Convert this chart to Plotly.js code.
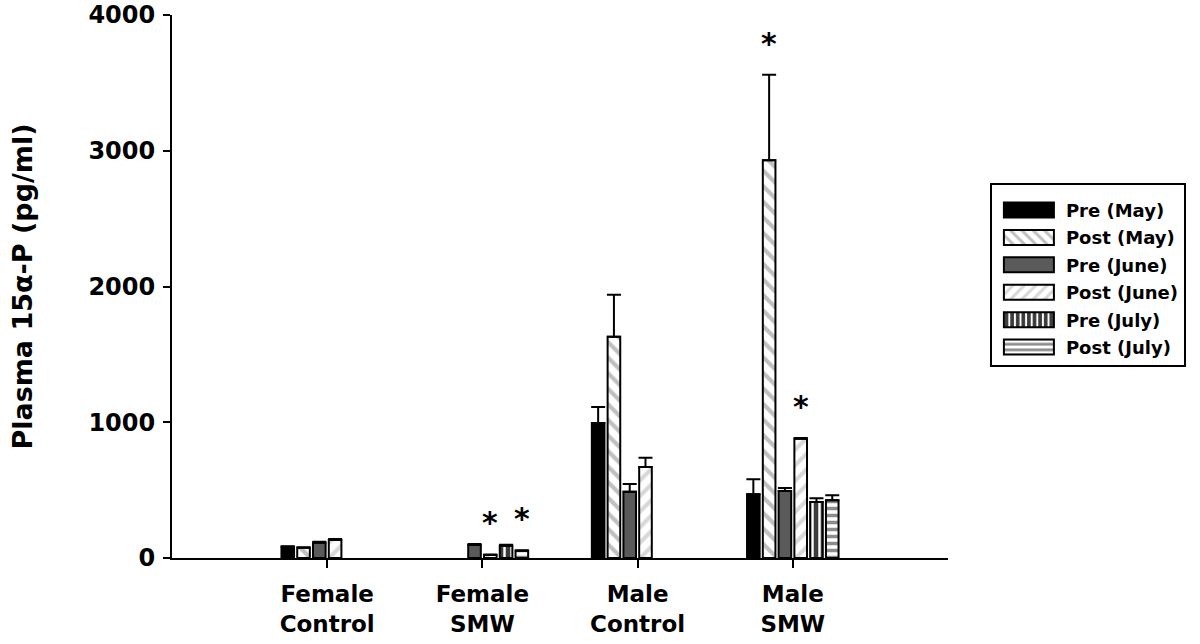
<!DOCTYPE html>
<html>
<head>
<meta charset="utf-8">
<script src="https://cdn.plot.ly/plotly-3.0.1.min.js"></script>
<style>html,body{margin:0;padding:0;background:#fff;}#chart{width:1200px;height:644px;}</style>
</head>
<body>
<div id="chart"></div>
<script>
// ---- data ----
const categories = ['Female<br>Control', 'Female<br>SMW', 'Male<br>Control', 'Male<br>SMW'];
const seriesNames = ['Pre (May)', 'Post (May)', 'Pre (June)', 'Post (June)', 'Pre (July)', 'Post (July)'];

const preMay      = [82,   null, 995,  470];
const preMayErr   = [5,    null, 118,  110];
const postMay     = [76,   null, 1630, 2930];
const postMayErr  = [4,    null, 310,  630];
const preJune     = [112,  96,   488,  493];
const preJuneErr  = [8,    7,    58,   22];
const postJune    = [132,  22,   670,  878];
const postJuneErr = [8,    4,    68,   6];
const preJuly     = [null, 90,   null, 412];
const preJulyErr  = [null, 8,    null, 29];
const postJuly    = [null, 54,   null, 426];
const postJulyErr = [null, 4,    null, 37];

// significance markers (*): which series, which group
const starSeries = ['Post (June)', 'Post (July)', 'Post (May)', 'Post (June)'];
const starGroups = ['Female<br>SMW', 'Female<br>SMW', 'Male<br>SMW', 'Male<br>SMW'];

const yTickVals = [0, 1000, 2000, 3000, 4000];

// ---- styling ----
const values = [preMay, postMay, preJune, postJune, preJuly, postJuly];
const errs = [preMayErr, postMayErr, preJuneErr, postJuneErr, preJulyErr, postJulyErr];
const patterns = [
  null,
  {shape: '\\', fgcolor: '#c0c0c0', bgcolor: '#fff', size: 11, solidity: 0.38},
  null,
  {shape: '/', fgcolor: '#d8d8d8', bgcolor: '#fff', size: 11, solidity: 0.38},
  {shape: '|', fgcolor: '#ffffff', bgcolor: '#3c3c3c', size: 7, solidity: 0.35},
  {shape: '-', fgcolor: '#8c8c8c', bgcolor: '#fff', size: 7, solidity: 0.5}
];
const fills = ['#000', '#fff', '#5a5a5a', '#fff', '#3c3c3c', '#fff'];

const font = {family: 'DejaVu Sans, Verdana, sans-serif', color: '#000', weight: 'bold'};

const traces = seriesNames.map((name, i) => ({
  type: 'bar',
  name: name,
  x: categories,
  y: values[i],
  legendgroup: 'g' + i,
  marker: {
    color: fills[i],
    line: {color: '#000', width: 2},
    pattern: patterns[i] ? Object.assign({fillmode: 'replace'}, patterns[i]) : undefined
  },
  error_y: {
    type: 'data', symmetric: false,
    array: errs[i],
    arrayminus: errs[i].map(() => 0),
    color: '#000', thickness: 2, width: 7
  },
  hoverinfo: 'skip'
}));

const bargap = 0.39, bargroupgap = 0.2;
const nSeries = seriesNames.length;
const slot = (1 - bargap) / nSeries;

const annotations = starSeries.map((s, k) => {
  const i = seriesNames.indexOf(s);
  const c = categories.indexOf(starGroups[k]);
  return {
    x: c - (1 - bargap) / 2 + slot * (i + 0.5),
    y: values[i][c] + errs[i][c],
    xref: 'x', yref: 'y',
    text: '*', showarrow: false,
    yanchor: 'bottom', yshift: 12,
    font: Object.assign({}, font, {size: 30})
  };
});

const layout = {
  width: 1200, height: 644,
  margin: {l: 172, r: 252, t: 15, b: 86},
  paper_bgcolor: '#fff', plot_bgcolor: '#fff',
  barmode: 'group', bargap: bargap, bargroupgap: bargroupgap,
  font: font,
  showlegend: true,
  legend: {
    x: 1.054, y: 0.69, xanchor: 'left', yanchor: 'top',
    bordercolor: '#000', borderwidth: 2, bgcolor: '#fff',
    font: Object.assign({}, font, {size: 18}),
    title: {text: '&nbsp;', font: Object.assign({}, font, {size: 5})},
    traceorder: 'grouped', tracegroupgap: 1, itemwidth: 64
  },
  xaxis: {
    type: 'category', range: [-1, 4],
    showline: true, linecolor: '#000', linewidth: 2,
    ticks: 'outside', ticklen: 8, tickwidth: 2, tickcolor: '#000',
    ticklabelstandoff: 6,
    tickfont: Object.assign({}, font, {size: 23}),
    showgrid: false, zeroline: false, fixedrange: true
  },
  yaxis: {
    range: [0, 4000], tickvals: yTickVals,
    showline: true, linecolor: '#000', linewidth: 2,
    ticks: 'outside', ticklen: 7, tickwidth: 2, tickcolor: '#000',
    ticklabelstandoff: 3,
    tickfont: Object.assign({}, font, {size: 24}),
    showgrid: false, zeroline: false,
    title: {text: 'Plasma 15α-P (pg/ml)', font: Object.assign({}, font, {size: 27}), standoff: 48}
  },
  annotations: annotations
};

// widen the legend swatches to the reference's 50x15 rectangles
function widenSwatches(gd) {
  gd.querySelectorAll('.legend .legendpoints path').forEach(p => {
    p.setAttribute('d', 'M25,7.5H-25V-7.5H25Z');
  });
}

Plotly.newPlot('chart', traces, layout, {staticPlot: true, displayModeBar: false}).then(gd => {
  widenSwatches(gd);
  gd.on('plotly_afterplot', () => widenSwatches(gd));
});
</script>
</body>
</html>
